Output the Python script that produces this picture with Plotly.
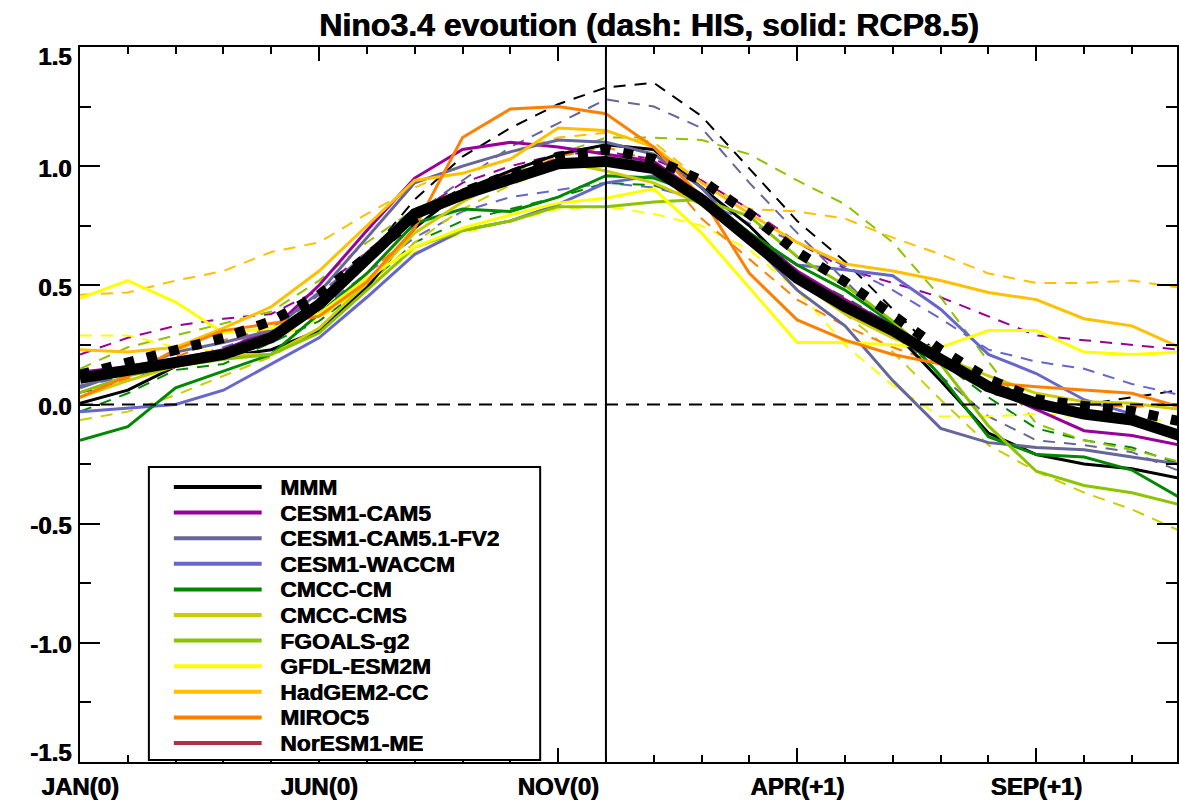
import plotly.graph_objects as go

# ---------------- data ----------------
months = list(range(24))
xtick_vals = [0, 5, 10, 15, 20]
xtick_text = ["JAN(0)", "JUN(0)", "NOV(0)", "APR(+1)", "SEP(+1)"]
ytick_vals = [1.5, 1.0, 0.5, 0.0, -0.5, -1.0, -1.5]
ytick_text = ["1.5", "1.0", "0.5", "0.0", "-0.5", "-1.0", "-1.5"]

models = ["MMM", "CESM1-CAM5", "CESM1-CAM5.1-FV2", "CESM1-WACCM", "CMCC-CM",
          "CMCC-CMS", "FGOALS-g2", "GFDL-ESM2M", "HadGEM2-CC", "MIROC5", "NorESM1-ME"]
colors = ["#000000", "#990099", "#666699", "#6666CC", "#008800",
          "#CCCC00", "#8CC400", "#FFFF00", "#FFC000", "#FF8000", "#AA3344"]

mmm_rcp = [0.11, 0.14, 0.17, 0.21, 0.28, 0.42, 0.61, 0.80, 0.88, 0.95, 1.01, 1.02,
           0.99, 0.86, 0.70, 0.53, 0.41, 0.31, 0.19, 0.075, 0.005, -0.04, -0.065, -0.13]
mmm_his = [0.125, 0.18, 0.235, 0.28, 0.35, 0.46, 0.62, 0.78, 0.89, 0.96, 1.04, 1.07,
           1.03, 0.94, 0.80, 0.64, 0.515, 0.375, 0.23, 0.107, 0.022, -0.006, -0.027, -0.07]

cam5_rcp = [0.135, 0.16, 0.19, 0.23, 0.31, 0.50, 0.73, 0.95, 1.07, 1.10, 1.08, 1.05,
            1.02, 0.88, 0.72, 0.56, 0.44, 0.33, 0.19, 0.07, -0.02, -0.11, -0.13, -0.17]
cam5_his = [0.21, 0.28, 0.33, 0.36, 0.38, 0.48, 0.64, 0.80, 0.93, 1.00, 1.05, 1.06,
            1.03, 0.94, 0.82, 0.68, 0.57, 0.51, 0.45, 0.37, 0.29, 0.27, 0.25, 0.23]

fv2_rcp = [0.07, 0.14, 0.22, 0.26, 0.31, 0.47, 0.70, 0.93, 1.00, 1.06, 1.11, 1.10,
           1.05, 0.91, 0.69, 0.48, 0.33, 0.10, -0.10, -0.16, -0.18, -0.19, -0.22, -0.25]
fv2_his = [0.08, 0.12, 0.18, 0.24, 0.31, 0.46, 0.64, 0.80, 0.94, 1.08, 1.18, 1.28,
           1.25, 1.16, 0.93, 0.72, 0.52, 0.32, 0.12, -0.05, -0.15, -0.17, -0.20, -0.28]

waccm_rcp = [-0.03, -0.016, 0.0, 0.06, 0.17, 0.28, 0.45, 0.63, 0.73, 0.77, 0.84, 0.93,
             0.96, 0.88, 0.72, 0.585, 0.565, 0.54, 0.40, 0.21, 0.13, 0.02, -0.04, -0.15]
waccm_his = [0.075, 0.12, 0.16, 0.22, 0.28, 0.40, 0.55, 0.70, 0.81, 0.87, 0.90, 0.93,
             0.91, 0.86, 0.76, 0.68, 0.58, 0.48, 0.36, 0.23, 0.18, 0.15, 0.086, 0.04]

cmcccm_rcp = [-0.15, -0.093, 0.07, 0.14, 0.21, 0.38, 0.55, 0.76, 0.82, 0.81, 0.87, 0.96,
              0.95, 0.88, 0.72, 0.585, 0.48, 0.34, 0.12, -0.135, -0.21, -0.22, -0.275, -0.39]
cmcccm_his = [-0.03, 0.047, 0.145, 0.17, 0.26, 0.35, 0.50, 0.68, 0.77, 0.82, 0.87, 0.93,
              0.92, 0.85, 0.70, 0.55, 0.45, 0.33, 0.18, 0.03, -0.10, -0.15, -0.18, -0.25]

cmcccms_rcp = [0.03, 0.10, 0.16, 0.21, 0.21, 0.32, 0.51, 0.72, 0.85, 0.96, 1.02, 0.98,
               0.93, 0.84, 0.68, 0.52, 0.38, 0.28, 0.20, 0.12, 0.047, 0.012, 0.005, -0.02]
cmcccms_his = [-0.065, -0.03, 0.04, 0.12, 0.20, 0.32, 0.50, 0.68, 0.82, 0.92, 1.00, 1.02,
               0.97, 0.88, 0.72, 0.55, 0.38, 0.22, 0.02, -0.17, -0.28, -0.37, -0.44, -0.53]

fgoals_rcp = [0.05, 0.12, 0.16, 0.19, 0.21, 0.30, 0.48, 0.66, 0.73, 0.77, 0.83, 0.83,
              0.85, 0.86, 0.79, 0.62, 0.50, 0.35, 0.17, -0.09, -0.28, -0.34, -0.37, -0.42]
fgoals_his = [0.15, 0.24, 0.29, 0.34, 0.39, 0.52, 0.68, 0.82, 0.90, 0.97, 1.05, 1.12,
              1.12, 1.11, 1.05, 0.94, 0.84, 0.68, 0.45, 0.18, -0.08, -0.15, -0.19, -0.24]

gfdl_rcp = [0.445, 0.52, 0.43, 0.30, 0.32, 0.38, 0.53, 0.66, 0.74, 0.795, 0.845, 0.865,
            0.905, 0.72, 0.49, 0.26, 0.26, 0.25, 0.24, 0.31, 0.31, 0.22, 0.21, 0.22]
gfdl_his = [0.29, 0.29, 0.24, 0.22, 0.27, 0.36, 0.50, 0.64, 0.72, 0.77, 0.82, 0.83,
            0.80, 0.75, 0.65, 0.48, 0.25, 0.08, -0.05, -0.05, -0.04, -0.05, -0.06, -0.07]

hadgem_rcp = [0.23, 0.22, 0.24, 0.32, 0.41, 0.56, 0.75, 0.94, 0.97, 1.03, 1.16, 1.15,
              1.08, 0.93, 0.80, 0.68, 0.59, 0.56, 0.52, 0.47, 0.44, 0.36, 0.33, 0.24]
hadgem_his = [0.46, 0.47, 0.52, 0.56, 0.64, 0.68, 0.80, 0.91, 1.00, 1.06, 1.12, 1.14,
              1.10, 0.94, 0.82, 0.81, 0.78, 0.70, 0.63, 0.55, 0.51, 0.51, 0.52, 0.49]

miroc_rcp = [0.03, 0.12, 0.23, 0.31, 0.34, 0.37, 0.515, 0.74, 1.12, 1.24, 1.25, 1.22,
             1.08, 0.87, 0.55, 0.355, 0.27, 0.21, 0.17, 0.09, 0.075, 0.06, 0.047, -0.01]
miroc_his = [0.03, 0.11, 0.20, 0.27, 0.32, 0.38, 0.55, 0.72, 0.85, 0.95, 1.04, 1.08,
             1.02, 0.78, 0.61, 0.44, 0.33, 0.24, 0.17, 0.08, 0.01, 0.0, -0.01, 0.0]

# thin black pair drawn in the figure (not listed separately in the legend)
black_rcp = [0.005, 0.06, 0.16, 0.20, 0.23, 0.31, 0.49, 0.74, 0.90, 0.98, 1.05, 1.09,
             1.07, 0.91, 0.75, 0.55, 0.42, 0.31, 0.10, -0.12, -0.21, -0.25, -0.27, -0.31]
black_his = [0.05, 0.10, 0.17, 0.23, 0.30, 0.42, 0.62, 0.86, 1.04, 1.16, 1.26, 1.33,
             1.35, 1.21, 0.99, 0.77, 0.60, 0.40, 0.20, 0.05, 0.0, 0.0, 0.03, 0.06]

series = [  # (name, colour, rcp, his)
    ("extra", "#000000", black_rcp, black_his),
    ("CESM1-CAM5", colors[1], cam5_rcp, cam5_his),
    ("CESM1-CAM5.1-FV2", colors[2], fv2_rcp, fv2_his),
    ("CESM1-WACCM", colors[3], waccm_rcp, waccm_his),
    ("CMCC-CM", colors[4], cmcccm_rcp, cmcccm_his),
    ("CMCC-CMS", colors[5], cmcccms_rcp, cmcccms_his),
    ("FGOALS-g2", colors[6], fgoals_rcp, fgoals_his),
    ("GFDL-ESM2M", colors[7], gfdl_rcp, gfdl_his),
    ("HadGEM2-CC", colors[8], hadgem_rcp, hadgem_his),
    ("MIROC5", colors[9], miroc_rcp, miroc_his),
]

# ---------------- layout geometry ----------------
W, H = 1179, 805
ML, MR, MT, MB = 80, 0, 47, 43
PX_PER_MONTH = 47.9
plot_w = W - ML - MR
plot_h = H - MT - MB
xmax = plot_w / PX_PER_MONTH
FONT = "Liberation Sans, Arial, Helvetica, sans-serif"
HEAVY = "0.8px 0px 0px #000"


def px(p):
    return (p - ML) / plot_w


def py(p):
    return (H - MB - p) / plot_h


def tfont(size):
    return dict(family=FONT, size=size, color="black", weight="bold", shadow=HEAVY)


fig = go.Figure()

for name, col, rcp, his in series:
    fig.add_trace(go.Scatter(x=months, y=his, mode="lines", name=name + " HIS",
                             line=dict(color=col, width=2, dash="12px,9px"),
                             showlegend=False))
for name, col, rcp, his in series:
    fig.add_trace(go.Scatter(x=months, y=rcp, mode="lines", name=name + " RCP8.5",
                             line=dict(color=col, width=3), showlegend=False))

fig.add_trace(go.Scatter(x=months, y=mmm_rcp, mode="lines", name="MMM RCP8.5",
                         line=dict(color="black", width=11), showlegend=False))
fig.add_trace(go.Scatter(x=months, y=mmm_his, mode="lines", name="MMM HIS",
                         line=dict(color="black", width=10, dash="10px,13px"),
                         showlegend=False))

shapes = [
    dict(type="line", xref="x domain", yref="y", x0=0, x1=1, y0=0, y1=0,
         line=dict(color="black", width=2, dash="13px,8px"), layer="above"),
    dict(type="line", xref="x", yref="y domain", x0=11, x1=11, y0=0, y1=1,
         line=dict(color="black", width=2), layer="above"),
]

annotations = [
    dict(text="Nino3.4 evoution (dash: HIS, solid: RCP8.5)", xref="paper", yref="paper",
         x=px(650), y=py(25), xanchor="center", yanchor="middle", showarrow=False,
         font=tfont(32)),
]

# y tick labels (end labels nudged inward as in the original)
for i, (v, t) in enumerate(zip(ytick_vals, ytick_text)):
    shift = -2
    if i == 0:
        shift = -9
    elif i == len(ytick_vals) - 1:
        shift = 10
    annotations.append(dict(text=t, xref="paper", yref="y", x=px(73), y=v,
                            xanchor="right", yanchor="middle", yshift=shift, showarrow=False,
                            font=tfont(24)))

# legend drawn by hand
LEG_L, LEG_R, LEG_T, LEG_B = 149, 541, 467, 760
ROW0, ROW_H = 487, 25.6
shapes.append(dict(type="rect", xref="paper", yref="paper", x0=px(LEG_L), x1=px(LEG_R),
                   y0=py(LEG_B), y1=py(LEG_T), line=dict(color="black", width=2),
                   fillcolor="white", layer="above"))
for i, (m, c) in enumerate(zip(models, colors)):
    yy = py(ROW0 + ROW_H * i)
    shapes.append(dict(type="line", xref="paper", yref="paper", x0=px(174), x1=px(262),
                       y0=yy, y1=yy, line=dict(color=c, width=4), layer="above"))
    annotations.append(dict(text=m, xref="paper", yref="paper", x=px(278),
                            y=yy, xanchor="left", yanchor="middle", showarrow=False,
                            height=24, valign="middle", font=tfont(22.8)))

fig.update_layout(
    width=W, height=H,
    margin=dict(l=ML, r=MR, t=MT, b=MB, pad=0),
    paper_bgcolor="white", plot_bgcolor="rgba(0,0,0,0)",
    showlegend=False,
    shapes=shapes, annotations=annotations,
    font=dict(family=FONT, color="black"),
)
fig.update_xaxes(range=[0, xmax], tickmode="array", tickvals=xtick_vals,
                 ticktext=xtick_text, tickfont=tfont(24),
                 ticks="inside", ticklen=14, tickwidth=2, tickcolor="black",
                 showline=True, linewidth=2, linecolor="black", mirror="ticks",
                 showgrid=False, zeroline=False, ticklabelstandoff=2,
                 minor=dict(tick0=0, dtick=1, ticks="inside", ticklen=7, tickwidth=2,
                            tickcolor="black", showgrid=False))
fig.update_yaxes(range=[-1.5, 1.5], tickmode="array", tickvals=ytick_vals,
                 showticklabels=False,
                 ticks="inside", ticklen=20, tickwidth=2, tickcolor="black",
                 showline=True, linewidth=2, linecolor="black", mirror="ticks",
                 showgrid=False, zeroline=False,
                 minor=dict(tick0=0, dtick=0.25, ticks="inside", ticklen=11, tickwidth=2,
                            tickcolor="black", showgrid=False))

fig.write_html("out.html")
